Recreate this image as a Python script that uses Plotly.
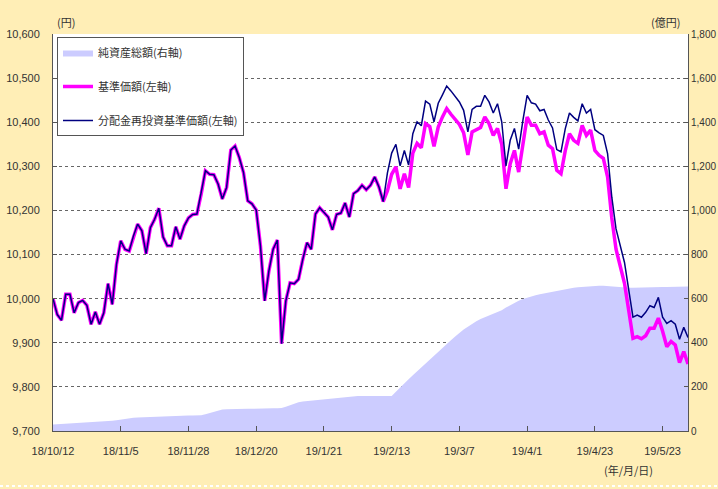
import plotly.graph_objects as go
import pandas as pd

# ---- data ----
jp_holidays = ["2018-11-23", "2018-12-24", "2018-12-31", "2019-01-01", "2019-01-02",
               "2019-01-03", "2019-01-14", "2019-02-11", "2019-03-21", "2019-04-29",
               "2019-04-30", "2019-05-01", "2019-05-02", "2019-05-03", "2019-05-06"]
dates = pd.bdate_range("2018-10-12", "2019-05-31", freq="C", holidays=jp_holidays)
categories = [f"{d.year % 100}/{d.month}/{d.day}" for d in dates]

tick_labels = ["18/10/12", "18/11/5", "18/11/28", "18/12/20", "19/1/21",
               "19/2/13", "19/3/7", "19/4/1", "19/4/23", "19/5/23"]

nav_reinvested = [
    10000, 9964, 9951, 10010, 10010, 9968, 9991, 9996, 9985, 9942,
    9970, 9942, 9968, 10034, 9987, 10078, 10131, 10112, 10108, 10142,
    10169, 10154, 10102, 10161, 10180, 10205, 10140, 10120, 10120, 10163,
    10135, 10165, 10183, 10191, 10192, 10237, 10290, 10282, 10281, 10260,
    10226, 10252, 10337, 10346, 10320, 10286, 10222, 10215, 10201, 10120,
    9995, 10063, 10112, 10133, 9898, 9995, 10036, 10034, 10044, 10089,
    10127, 10112, 10192, 10206, 10196, 10185, 10156, 10191, 10194, 10217,
    10185, 10238, 10245, 10257, 10247, 10257, 10276, 10253, 10220, 10285,
    10330, 10350, 10301, 10336, 10303, 10374, 10401, 10392, 10448, 10441,
    10401, 10443, 10462, 10482, 10471, 10459, 10446, 10427, 10378, 10429,
    10436, 10436, 10461, 10446, 10421, 10442, 10401, 10301, 10359, 10386,
    10339, 10404, 10461, 10444, 10441, 10426, 10429, 10405, 10387, 10338,
    10333, 10385, 10421, 10411, 10403, 10442, 10421, 10429, 10383, 10376,
    10370, 10329, 10230, 10158, 10118, 10082, 10020, 9958, 9963, 9958,
    9969, 9984, 9980, 10003, 9958, 9944, 9950, 9942, 9908, 9935,
    9912,
]

nav = [
    10000, 9964, 9951, 10010, 10010, 9968, 9991, 9996, 9985, 9942,
    9970, 9942, 9968, 10034, 9987, 10078, 10131, 10112, 10108, 10142,
    10169, 10154, 10102, 10161, 10180, 10205, 10140, 10120, 10120, 10163,
    10135, 10165, 10183, 10191, 10192, 10237, 10290, 10282, 10281, 10260,
    10226, 10252, 10337, 10346, 10320, 10286, 10222, 10215, 10201, 10120,
    9995, 10063, 10112, 10133, 9898, 9995, 10036, 10034, 10044, 10089,
    10127, 10112, 10192, 10206, 10196, 10185, 10156, 10191, 10194, 10217,
    10185, 10238, 10245, 10257, 10247, 10257, 10276, 10253, 10220, 10245,
    10282, 10299, 10249, 10283, 10252, 10330, 10352, 10342, 10397, 10390,
    10345, 10389, 10412, 10431, 10418, 10406, 10395, 10376, 10326, 10378,
    10383, 10388, 10412, 10397, 10370, 10386, 10350, 10249, 10306, 10336,
    10287, 10344, 10412, 10393, 10393, 10374, 10378, 10348, 10340, 10291,
    10283, 10335, 10374, 10359, 10352, 10393, 10370, 10382, 10336, 10325,
    10318, 10276, 10183, 10112, 10071, 10035, 9973, 9910, 9914, 9909,
    9916, 9933, 9933, 9956, 9926, 9891, 9903, 9895, 9855, 9880,
    9852,
]

net_assets = [
    30, 31, 32, 33, 34, 35, 36, 37, 38, 39,
    40, 41, 43, 45, 47, 49, 52, 57, 59, 60,
    61, 62, 63, 64, 65, 66, 66, 67, 67, 68,
    68, 69, 70, 70, 71, 71, 76, 82, 88, 93,
    97, 99, 100, 100, 101, 101, 101, 101, 102, 102,
    102, 103, 103, 103, 104, 110, 117, 124, 130, 134,
    136, 138, 140, 141, 143, 144, 145, 148, 151, 154,
    156, 158, 159, 159, 159, 159, 159, 159, 159, 159,
    159, 178, 198, 217, 235, 253, 271, 289, 307, 325,
    343, 360, 376, 395, 412, 428, 445, 460, 473, 487,
    498, 508, 516, 524, 531, 540, 548, 560, 570, 582,
    590, 598, 605, 612, 616, 620, 624, 628, 632, 636,
    640, 643, 646, 649, 652, 654, 656, 657, 658, 659,
    659, 657, 655, 653, 651, 650, 649, 649, 650, 650,
    651, 651, 652, 652, 653, 653, 654, 654, 655, 655,
    655,
]

left_ticks = [9700, 9800, 9900, 10000, 10100, 10200, 10300, 10400, 10500, 10600]
right_ticks = [0, 200, 400, 600, 800, 1000, 1200, 1400, 1600, 1800]

# ---- figure ----
W, H = 718, 489
L, R, T, B = 53, 30, 34, 58
pw, ph = W - L - R, H - T - B

num_font = dict(family="Liberation Sans, Arial, sans-serif", size=11, color="#333333")
right_font = dict(family="Liberation Sans, Arial, sans-serif", size=10, color="#333333")
jp_font = "Noto Sans CJK JP, sans-serif"

fig = go.Figure()
fig.add_trace(go.Scatter(
    x=categories, y=net_assets, mode="lines", fill="tozeroy",
    fillcolor="#CCCCFF", line=dict(width=0, color="#CCCCFF"),
    name="純資産総額(右軸)", yaxis="y", legendgroup="a"))
fig.add_trace(go.Scatter(
    x=categories, y=nav, mode="lines",
    line=dict(color="#FF00FF", width=3.5),
    name="基準価額(左軸)", yaxis="y2", legendgroup="b"))
fig.add_trace(go.Scatter(
    x=categories, y=nav_reinvested, mode="lines",
    line=dict(color="#000080", width=1.5),
    name="分配金再投資基準価額(左軸)", yaxis="y2", legendgroup="c"))

fig.update_layout(
    width=W, height=H,
    margin=dict(l=L, r=R, t=T, b=B, pad=0, autoexpand=False),
    paper_bgcolor="#FFEEB6",
    plot_bgcolor="#FFFFFF",
    showlegend=True,
    legend=dict(
        x=4 / pw, y=1 - 3 / ph, xanchor="left", yanchor="top",
        bgcolor="#FFFFFF", bordercolor="#555555", borderwidth=1,
        font=dict(family=jp_font, size=11, color="#333333"),
        tracegroupgap=15, itemwidth=30, traceorder="grouped",
    ),
    xaxis=dict(
        type="category", range=[0, len(categories) - 1], automargin=False,
        tickvals=tick_labels, ticktext=tick_labels,
        ticks="inside", ticklen=5, tickcolor="#555555",
        showline=True, linecolor="#555555", linewidth=1,
        showgrid=False, zeroline=False,
        tickfont=num_font, ticklabelstandoff=10,
    ),
    yaxis=dict(
        side="right", range=[0, 1800], tickvals=right_ticks, tickformat=",",
        automargin=False,
        ticks="inside", ticklen=4, tickcolor="#555555",
        showline=True, linecolor="#555555", linewidth=1,
        showgrid=True, gridcolor="#666666", griddash="dot", gridwidth=1,
        zeroline=False, tickfont=right_font, ticklabelstandoff=0,
    ),
    yaxis2=dict(
        overlaying="y", side="left", range=[9700, 10600], automargin=False,
        tickvals=left_ticks, tickformat=",",
        ticks="inside", ticklen=4, tickcolor="#555555",
        showline=True, linecolor="#555555", linewidth=1,
        showgrid=False, zeroline=False, tickfont=num_font,
        ticklabelstandoff=10,
    ),
    annotations=[
        dict(text="(円)", xref="paper", yref="paper", x=2 / pw, y=1 + 22 / ph,
             showarrow=False, font=dict(family=jp_font, size=11, color="#333333")),
        dict(text="(億円)", xref="paper", yref="paper", x=1 - 6 / pw, y=1 + 22 / ph,
             showarrow=False, font=dict(family=jp_font, size=11, color="#333333")),
        dict(text="(年/月/日)", xref="paper", yref="paper", x=(655 - L) / pw,
             y=-(480 - (T + ph)) / ph,
             showarrow=False, font=dict(family=jp_font, size=11, color="#333333")),
    ],
    shapes=[
        dict(type="line", xref="paper", yref="paper",
             x0=-L / pw, x1=(W - L) / pw, y0=-(486 - (T + ph)) / ph, y1=-(486 - (T + ph)) / ph,
             line=dict(color="#FFFFFF", width=2, dash="dot")),
    ],
)

fig.write_html("out.html", config={"displayModeBar": False},
               post_script="document.body.style.margin='0px';")
